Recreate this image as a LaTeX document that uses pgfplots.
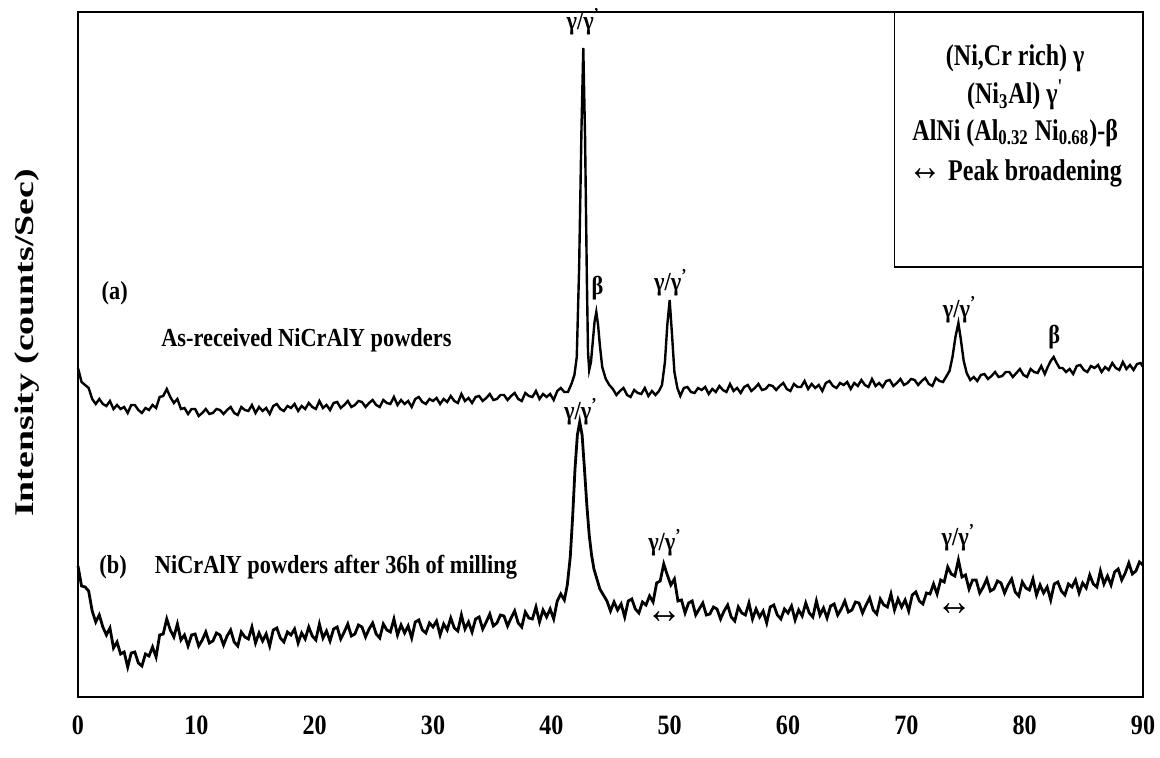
\documentclass[border=0pt]{standalone}
\usepackage{pgfplots}
\pgfplotsset{compat=1.18}
\usepackage{fontspec}
\setmainfont{Liberation Serif}[FakeStretch=0.86]
\newfontfamily\ylabfont{Liberation Serif}[FakeStretch=1.4]
\newfontfamily\keyfont{Liberation Serif}[FakeStretch=0.8]
\newcommand{\gamgam}{γ/γ\textsuperscript{'}}
\newcommand{\bigarrow}{{\fontsize{21}{21}\selectfont ↔}}
\begin{document}
\begin{tikzpicture}[
  lbl/.style={font=\bfseries\fontsize{13}{13}\selectfont},
  key/.style={font=\keyfont\bfseries\fontsize{15}{15}\selectfont},
]
\begin{axis}[
  scale only axis, width=532.5pt, height=342.5pt,
  xmin=0, xmax=90, ymin=0, ymax=685,
  xtick={0,10,...,90}, ytick=\empty,
  major tick length=0pt,
  axis line style={line width=1.4pt},
  /pgf/number format/assume math mode=true,
  xticklabel style={font=\bfseries\fontsize{14}{14}\selectfont, yshift=-6pt},
  ylabel={Intensity (counts/Sec)},
  ylabel style={font=\ylabfont\bfseries\fontsize{13.5}{13.5}\selectfont,
    at={(axis description cs:0,0.5)}, anchor=center, yshift=25.5pt, xshift=5.75pt},
  clip=false,
]
% (a) as-received powders
\addplot[black, line width=1.2pt] coordinates {
(0.0,329) (0.3,315) (0.6,312) (0.9,309) (1.2,298) (1.5,293) (1.8,298) (2.1,293) (2.4,291) (2.7,296)
(3.0,288) (3.3,292) (3.6,288) (3.9,290) (4.2,284) (4.5,292) (4.8,292) (5.1,287) (5.4,284) (5.7,289)
(6.0,287) (6.3,292) (6.6,289) (6.9,300) (7.2,301) (7.5,308) (7.8,300) (8.1,294) (8.4,298) (8.7,288)
(9.0,289) (9.3,283) (9.6,288) (9.9,288) (10.2,281) (10.5,284) (10.8,288) (11.1,283) (11.4,284) (11.7,288)
(12.0,287) (12.3,283) (12.6,287) (12.9,290) (13.2,284) (13.5,282) (13.8,290) (14.1,287) (14.4,286) (14.7,292)
(15.0,284) (15.3,290) (15.6,286) (15.9,289) (16.2,283) (16.5,291) (16.8,293) (17.1,288) (17.4,286) (17.7,291)
(18.0,289) (18.3,293) (18.6,286) (18.9,291) (19.2,288) (19.5,294) (19.8,290) (20.1,288) (20.4,296) (20.7,289)
(21.0,292) (21.3,287) (21.6,294) (21.9,295) (22.2,289) (22.5,292) (22.8,296) (23.1,290) (23.4,292) (23.7,296)
(24.0,295) (24.3,290) (24.6,294) (24.9,297) (25.2,292) (25.5,290) (25.8,297) (26.1,294) (26.4,293) (26.7,300)
(27.0,292) (27.3,297) (27.6,293) (27.9,296) (28.2,290) (28.5,298) (28.8,300) (29.1,295) (29.4,293) (29.7,298)
(30.0,296) (30.3,299) (30.6,293) (30.9,298) (31.2,295) (31.5,301) (31.8,296) (32.1,294) (32.4,303) (32.7,296)
(33.0,299) (33.3,294) (33.6,300) (33.9,301) (34.2,296) (34.5,299) (34.8,303) (35.1,297) (35.4,298) (35.7,302)
(36.0,302) (36.3,297) (36.6,301) (36.9,304) (37.2,298) (37.5,296) (37.8,304) (38.1,301) (38.4,300) (38.7,306)
(39.0,298) (39.3,303) (39.6,300) (39.9,303) (40.2,297) (40.5,306) (40.8,309) (41.1,305) (41.4,305)
(41.7,313) (41.95,322) (42.15,340) (42.35,430) (42.55,570) (42.7,649) (42.85,560) (43.0,420) (43.1,345) (43.2,327)
(43.35,335) (43.5,355) (43.65,375) (43.8,385) (43.95,372) (44.1,352) (44.3,330) (44.6,318) (44.9,312)
(45.2,308) (45.5,302) (45.8,306) (46.1,309) (46.4,302) (46.7,300) (47.0,307) (47.3,304) (47.6,303) (47.9,309)
(48.2,301) (48.5,306) (48.8,302) (49.1,306) (49.35,312) (49.6,335) (49.8,372) (50.0,397) (50.2,362) (50.4,325)
(50.65,309) (50.9,301) (51.2,309) (51.5,310) (51.8,305) (52.1,304) (52.4,309) (52.7,307) (53.0,310) (53.3,303)
(53.6,308) (53.9,305) (54.2,311) (54.5,307) (54.8,305) (55.1,313) (55.4,306) (55.7,309) (56.0,304) (56.3,310)
(56.6,312) (56.9,306) (57.2,309) (57.5,313) (57.8,307) (58.1,308) (58.4,312) (58.7,311) (59.0,307) (59.3,311)
(59.6,314) (59.9,308) (60.2,306) (60.5,313) (60.8,310) (61.1,310) (61.4,316) (61.7,308) (62.0,313) (62.3,309)
(62.6,312) (62.9,306) (63.2,314) (63.5,316) (63.8,311) (64.1,309) (64.4,314) (64.7,312) (65.0,315) (65.3,308)
(65.6,314) (65.9,311) (66.2,317) (66.5,312) (66.8,310) (67.1,318) (67.4,311) (67.7,314) (68.0,310) (68.3,316)
(68.6,317) (68.9,311) (69.2,314) (69.5,318) (69.8,312) (70.1,314) (70.4,318) (70.7,317) (71.0,312) (71.3,316)
(71.6,319) (71.9,313) (72.2,311) (72.5,319) (72.8,316) (73.1,315) (73.4,321)
(73.65,326) (73.9,340) (74.15,360) (74.4,374) (74.6,358) (74.85,336) (75.1,324)
(75.4,317) (75.7,320) (76.0,316) (76.3,322) (76.6,323) (76.9,318) (77.2,321) (77.5,325) (77.8,320) (78.1,321)
(78.4,325) (78.7,325) (79.0,320) (79.3,324) (79.6,328) (79.9,322) (80.2,320) (80.5,328) (80.8,325) (81.1,324)
(81.4,331) (81.7,323) (81.95,330) (82.2,336) (82.45,340) (82.7,334) (82.95,329)
(83.2,329) (83.5,325) (83.8,328) (84.1,323) (84.4,331) (84.7,332) (85.0,327) (85.3,325) (85.6,331) (85.9,329)
(86.2,332) (86.5,325) (86.8,330) (87.1,327) (87.4,334) (87.7,329) (88.0,327) (88.3,335) (88.6,328) (88.9,332)
(89.2,327) (89.5,333) (89.8,334) (90.0,330)
};
% (b) after 36 h of milling
\addplot[black, line width=1.4pt] coordinates {
(0.0,131) (0.3,111) (0.6,110) (0.9,106) (1.2,86) (1.5,75) (1.8,82) (2.1,70) (2.4,62) (2.7,69)
(3.0,49) (3.3,55) (3.6,43) (3.9,45) (4.2,30) (4.5,44) (4.8,45) (5.1,34) (5.4,31) (5.7,43)
(6.0,41) (6.3,50) (6.6,40) (6.9,62) (7.2,63) (7.5,78) (7.8,67) (8.1,60) (8.4,73) (8.7,57)
(9.0,62) (9.3,51) (9.6,62) (9.9,63) (10.2,51) (10.5,57) (10.8,65) (11.1,54) (11.4,56) (11.7,64)
(12.0,62) (12.3,52) (12.6,61) (12.9,67) (13.2,55) (13.5,51) (13.8,65) (14.1,60) (14.4,58) (14.7,70)
(15.0,54) (15.3,64) (15.6,56) (15.9,63) (16.2,51) (16.5,67) (16.8,69) (17.1,59) (17.4,55) (17.7,65)
(18.0,62) (18.3,68) (18.6,54) (18.9,64) (19.2,58) (19.5,70) (19.8,61) (20.1,57) (20.4,73) (20.7,59)
(21.0,66) (21.3,56) (21.6,68) (21.9,70) (22.2,58) (22.5,65) (22.8,73) (23.1,61) (23.4,63) (23.7,72)
(24.0,70) (24.3,60) (24.6,68) (24.9,74) (25.2,63) (25.5,59) (25.8,73) (26.1,67) (26.4,65) (26.7,78)
(27.0,62) (27.3,72) (27.6,64) (27.9,71) (28.2,59) (28.5,75) (28.8,77) (29.1,67) (29.4,64) (29.7,74)
(30.0,70) (30.3,76) (30.6,62) (30.9,73) (31.2,67) (31.5,79) (31.8,69) (32.1,66) (32.4,82) (32.7,68)
(33.0,75) (33.3,65) (33.6,78) (33.9,80) (34.2,68) (34.5,75) (34.8,83) (35.1,71) (35.4,74) (35.7,82)
(36.0,81) (36.3,71) (36.6,79) (36.9,86) (37.2,74) (37.5,70) (37.8,85) (38.1,79) (38.4,78) (38.7,90)
(39.0,75) (39.3,87) (39.6,80) (39.9,88) (40.2,78) (40.5,96) (40.8,103) (41.1,97)
(41.35,112) (41.6,140) (41.8,180) (42.0,228) (42.2,262) (42.4,275) (42.6,262) (42.8,228) (43.0,192) (43.2,162)
(43.4,142) (43.6,128) (43.85,118) (44.1,108) (44.4,102) (44.7,96)
(45.0,86) (45.3,95) (45.6,87) (45.9,93) (46.2,80) (46.5,96) (46.8,98) (47.1,88) (47.4,84) (47.7,95)
(48.0,92) (48.3,101) (48.6,95) (48.9,114) (49.2,116) (49.5,133) (49.8,122) (50.1,112) (50.4,118) (50.7,96)
(51.0,97) (51.3,84) (51.6,94) (51.9,96) (52.2,82) (52.5,88) (52.8,94) (53.1,82) (53.4,83) (53.7,90)
(54.0,88) (54.3,78) (54.6,86) (54.9,92) (55.2,80) (55.5,76) (55.8,90) (56.1,84) (56.4,82) (56.7,94)
(57.0,78) (57.3,88) (57.6,80) (57.9,86) (58.2,74) (58.5,90) (58.8,92) (59.1,82) (59.4,78) (59.7,88)
(60.0,84) (60.3,91) (60.6,77) (60.9,87) (61.2,81) (61.5,94) (61.8,84) (62.1,80) (62.4,96) (62.7,82)
(63.0,89) (63.3,79) (63.6,91) (63.9,93) (64.2,82) (64.5,88) (64.8,96) (65.1,85) (65.4,87) (65.7,95)
(66.0,94) (66.3,84) (66.6,92) (66.9,99) (67.2,87) (67.5,83) (67.8,98) (68.1,92) (68.4,90) (68.7,103)
(69.0,87) (69.3,98) (69.6,90) (69.9,97) (70.2,86) (70.5,102) (70.8,105) (71.1,96) (71.4,93) (71.7,104)
(72.0,103) (72.3,113) (72.6,103) (72.9,117) (73.2,115) (73.5,130) (73.8,123) (74.1,121) (74.4,137) (74.7,120)
(75.0,122) (75.3,108) (75.6,117) (75.9,117) (76.2,104) (76.5,110) (76.8,118) (77.1,106) (77.4,108) (77.7,116)
(78.0,114) (78.3,104) (78.6,112) (78.9,118) (79.2,105) (79.5,101) (79.8,115) (80.1,109) (80.4,107) (80.7,118)
(81.0,102) (81.3,112) (81.6,104) (81.9,110) (82.2,97) (82.5,113) (82.8,115) (83.1,106) (83.4,102) (83.7,113)
(84.0,110) (84.3,117) (84.6,104) (84.9,114) (85.2,109) (85.5,122) (85.8,113) (86.1,110) (86.4,126) (86.7,113)
(87.0,121) (87.3,112) (87.6,125) (87.9,128) (88.2,117) (88.5,124) (88.8,134) (89.1,123) (89.4,126) (89.7,135)
(90.0,132)
};
% peak labels
\node[lbl] at (axis cs:42.7,675) {\gamgam};
\node[lbl] at (axis cs:3.1,404) {(a)};
\node[lbl] at (axis cs:19.3,357) {As-received NiCrAlY powders};
\node[lbl] at (axis cs:43.9,409) {β};
\node[lbl] at (axis cs:50.1,414) {\gamgam};
\node[lbl] at (axis cs:74.5,387) {\gamgam};
\node[lbl] at (axis cs:82.5,360) {β};
\node[lbl] at (axis cs:42.5,285) {\gamgam};
\node[lbl] at (axis cs:2.97,130) {(b)};
\node[lbl] at (axis cs:21.8,130) {NiCrAlY powders after 36h of milling};
\node[lbl] at (axis cs:49.6,154) {\gamgam};
\node[lbl] at (axis cs:74.4,159) {\gamgam};
\node[lbl] at (axis cs:49.6,79) {\bigarrow};
\node[lbl] at (axis cs:74.1,87) {\bigarrow};
% key box
\draw[line width=0.8pt] (axis cs:69,430) rectangle (axis cs:90,685);
\node[key] at (axis cs:79.2,639) {(Ni,Cr rich) γ};
\node[key] at (axis cs:79.2,602) {(Ni\textsubscript{3}Al) γ\textsuperscript{'}};
\node[key] at (axis cs:79.2,564) {AlNi (Al\textsubscript{0.32} Ni\textsubscript{0.68})-β};
\node[key] at (axis cs:79.2,524) {\bigarrow\ Peak broadening};
\end{axis}
\pgfresetboundingbox
\path ([xshift=-39pt,yshift=-30.5pt]current axis.south west) rectangle ([xshift=8.5pt,yshift=6pt]current axis.north east);
\end{tikzpicture}
\end{document}
